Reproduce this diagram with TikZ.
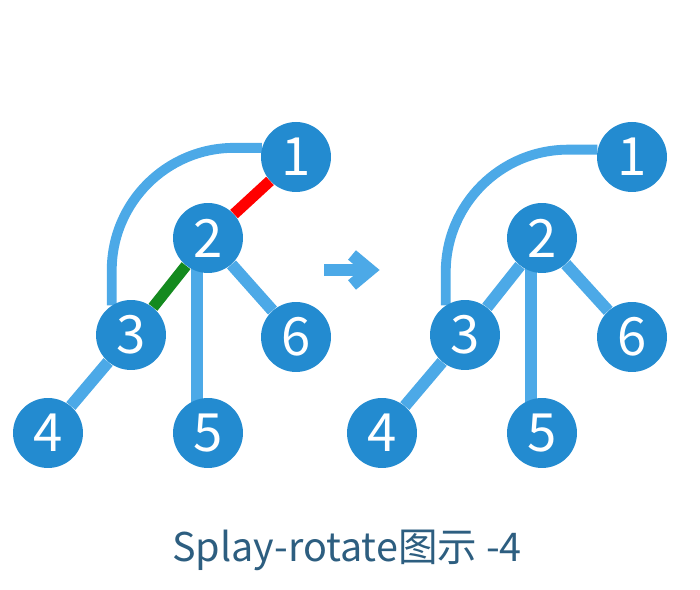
\documentclass[tikz,border=0pt]{standalone}
\usepackage{fontspec}
\setmainfont{Noto Sans CJK SC}
\usetikzlibrary{backgrounds}
\definecolor{azulnodo}{HTML}{238BD0}
\definecolor{azularista}{HTML}{4CA9E7}
\definecolor{verdearista}{HTML}{148A1F}
\definecolor{azultitulo}{HTML}{2D5E80}

\begin{document}
\begin{tikzpicture}[x=0.02cm,y=-0.02cm,
    nodo/.style={circle,fill=azulnodo,text=white,minimum size=1.4cm,inner sep=0pt,
      font=\fontsize{30}{30}\selectfont},
    arista/.style={azularista,line width=6.8pt},
    arco/.style={azularista,line width=5.6pt,rounded corners=2.45cm}]
    \useasboundingbox (0,0) rectangle (700,590);
    % arbol antes de la rotacion
    \node[nodo] (a1) at (296,157) {1};
    \node[nodo] (a2) at (208,238) {2};
    \node[nodo] (a3) at (131,335) {3};
    \node[nodo] (a6) at (296,337) {6};
    \node[nodo] (a4) at (48,433) {4};
    \node[nodo] (a5) at (208,433) {5};
    % arbol despues de la rotacion
    \node[nodo] (b1) at (632,157) {1};
    \node[nodo] (b2) at (542,238) {2};
    \node[nodo] (b3) at (465,335) {3};
    \node[nodo] (b6) at (632,337) {6};
    \node[nodo] (b4) at (382,433) {4};
    \node[nodo] (b5) at (542,433) {5};
    \begin{scope}[on background layer]
      % aristas del primer arbol, la rotada en rojo y verde
      \draw[arco] (a1.165) -| (a3.123);
      \draw[red,line width=6.4pt] (a1) -- (a2);
      \draw[verdearista,line width=6.4pt] (a2) -- (a3);
      \draw[arista] ([xshift=-6]a2.center) -- ([xshift=-6]a5.center);
      \draw[arista] (a2) -- (a6);
      \draw[arista] (a3) -- (a4);
      % aristas del segundo arbol
      \draw[arco] (b1.168) -| (b3.123);
      \draw[arista] (b2) -- (b3);
      \draw[arista] ([xshift=-6]b2.center) -- ([xshift=-6]b5.center);
      \draw[arista] (b2) -- (b6);
      \draw[arista] (b3) -- (b4);
    \end{scope}
    % flecha entre los dos arboles
    \draw[azularista,line width=7pt] (324,270) -- (366,270);
    \draw[azularista,line width=7pt,miter limit=4] (352,255) -- (370,270) -- (352,285);
    % titulo
    \node[azultitulo,anchor=base,font=\fontsize{22.5}{22.5}\selectfont] (titulo) at (347,562)
      {Splay-rotate图示 -4};
\end{tikzpicture}
\end{document}
